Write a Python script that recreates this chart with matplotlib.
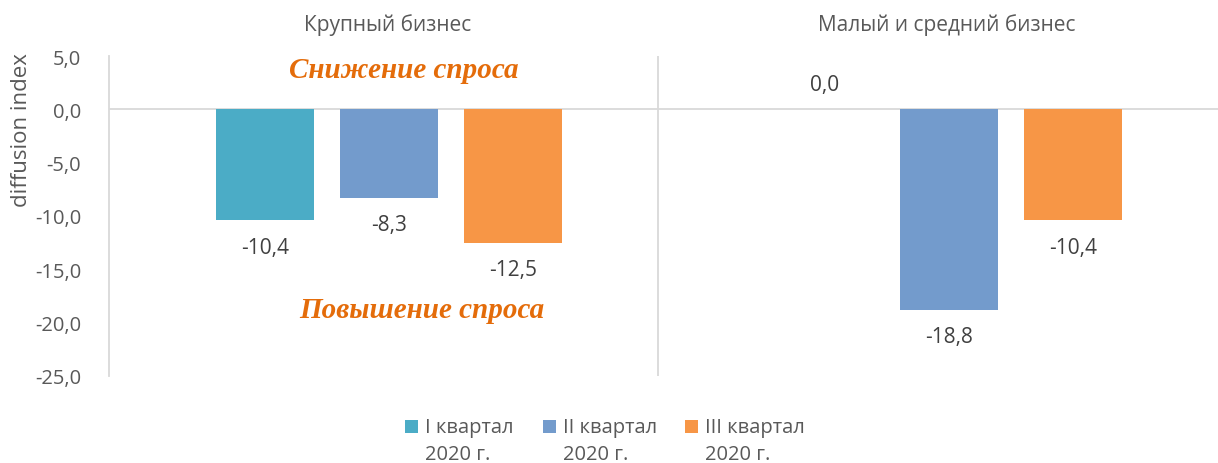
import matplotlib
matplotlib.use("Agg")
import matplotlib.pyplot as plt
from matplotlib.patches import Rectangle
import numpy as np

categories = ["Крупный бизнес", "Малый и средний бизнес"]
series_names = ["I квартал\n2020 г.", "II квартал\n2020 г.", "III квартал\n2020 г."]
q1 = [-10.4, 0.0]
q2 = [-8.3, -18.8]
q3 = [-12.5, -10.4]
series = [q1, q2, q3]
colors = ["#4BACC6", "#739BCC", "#F79646"]
yticks = [5, 0, -5, -10, -15, -20, -25]

plt.rcParams['font.family'] = ['Open Sans', 'DejaVu Sans']

fig = plt.figure(figsize=(12.18, 4.64), dpi=100)
ax = fig.add_axes([109/1218, 1-377/464, 1-109/1218, 320/464])

ppu = 560.0
x = np.arange(len(categories))
offset = 124/ppu
width = 98/ppu
for i, (vals, col) in enumerate(zip(series, colors)):
    pos = x + (i-1)*offset
    ax.bar(pos, vals, width=width, color=col, zorder=2)
    for p, v in zip(pos, vals):
        txt = f"{v:.1f}".replace(".", ",")
        dy = -27 if v < 0 else 25
        ax.annotate(txt, (p, v), xytext=(0, dy), textcoords="offset pixels",
                    ha="center", va="center", fontsize=15, color="#404040")

ax.set_xlim(-280/ppu, -280/ppu + 1109/ppu)
ax.set_ylim(-25, 5)
ax.set_yticks(yticks)
ax.set_yticklabels([f"{t:.1f}".replace(".", ",") for t in yticks], fontsize=14.5, color="#595959")
ax.set_xticks([])
ax.tick_params(axis="y", length=0, pad=20)
for s in ["top", "right", "bottom"]:
    ax.spines[s].set_visible(False)
ax.spines["left"].set_color("#D9D9D9")
ax.spines["left"].set_linewidth(1.3)
ax.axhline(0, color="#D9D9D9", lw=1.3, zorder=1)
ax.axvline(269/ppu, color="#D9D9D9", lw=1.3, zorder=1)

cat_x = [388, 947]
for cx, c in zip(cat_x, categories):
    fig.text(cx/1218, 1-25/464, c, ha="center", va="center",
             fontsize=15, color="#595959")

fig.text(22/1218, 1-130/464, "diffusion index", rotation=90, ha="center", va="center",
         fontsize=16, color="#595959")

ann_kw = dict(ha="center", va="center", fontsize=21,
              fontweight="bold", fontstyle="italic", color="#E46C0A",
              family=["Liberation Serif", "DejaVu Serif"])
fig.text(404/1218, 1-70/464, "Снижение спроса", **ann_kw)
fig.text(422/1218, 1-310/464, "Повышение спроса", **ann_kw)

# legend drawn manually
leg_x = [405, 543, 685]
for lx, name, col in zip(leg_x, series_names, colors):
    fig.patches.append(Rectangle((lx/1218, 1-434/464), 13/1218, 13/464, transform=fig.transFigure,
                                 facecolor=col, edgecolor="none"))
    l1, l2 = name.split("\n")
    fig.text((lx+20)/1218, 1-428/464, l1, ha="left", va="center", fontsize=14.5, color="#595959")
    fig.text((lx+20)/1218, 1-455/464, l2, ha="left", va="center", fontsize=14.5, color="#595959")

fig.savefig("out.png", dpi=100)
